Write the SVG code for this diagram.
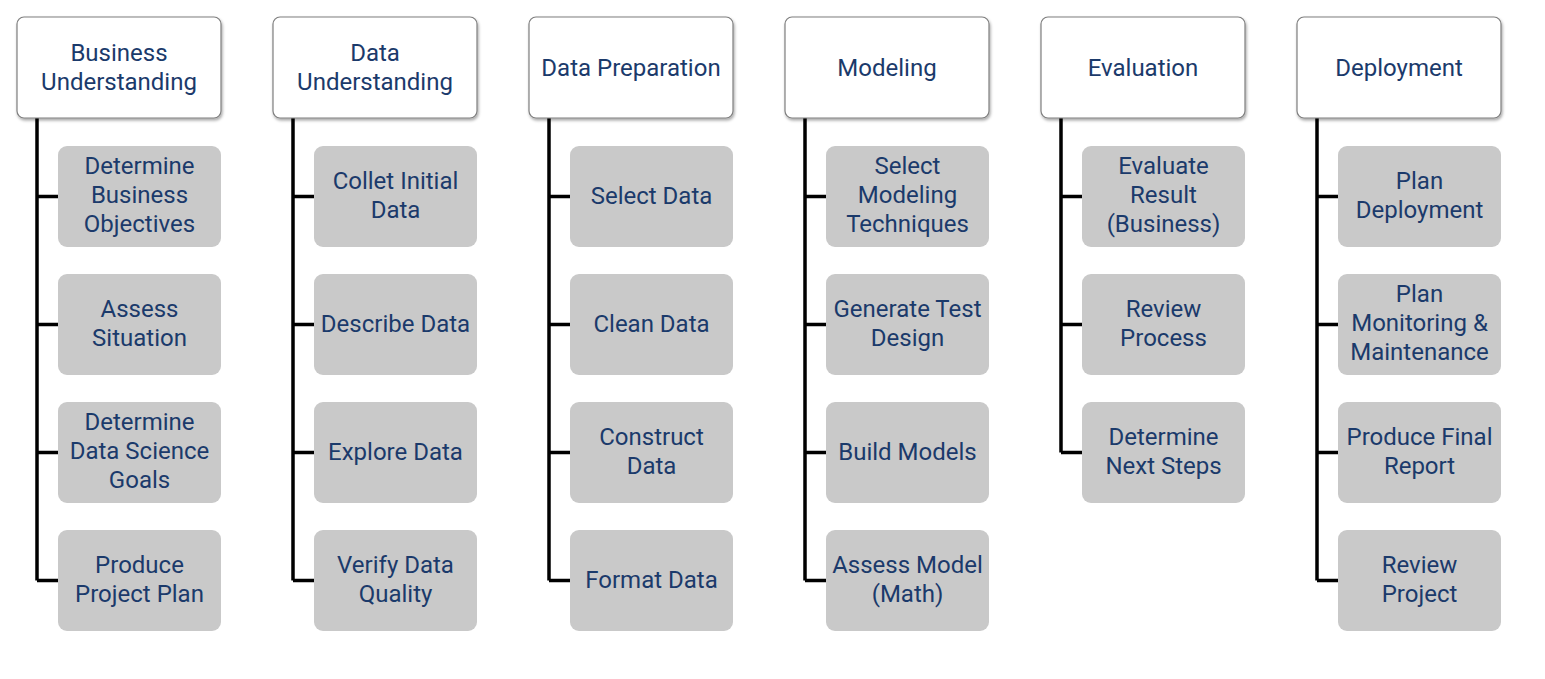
<svg xmlns="http://www.w3.org/2000/svg" width="1545" height="679" viewBox="0 0 1545 679">
<defs>
<filter id="sh" x="-10%" y="-10%" width="120%" height="130%">
<feDropShadow dx="1" dy="2" stdDeviation="1.5" flood-color="#000" flood-opacity="0.35"/>
</filter>
<style>
.hdr{fill:#fff;stroke:#7f7f7f;stroke-width:1.2;filter:url(#sh)}
.box{fill:#c9c9c9}
.t{font-family:Roboto,"Liberation Sans",sans-serif;font-size:24px;fill:#1b3a6b;text-anchor:middle}
.ln{stroke:#000;stroke-width:3.5;fill:none}
</style>
</defs>
<rect width="1545" height="679" fill="#fff"/>
<g id="connectors">
<path class="ln" d="M37 118V580.5M37 196.5H58M37 324.5H58M37 452.5H58M37 580.5H58"/>
<path class="ln" d="M293 118V580.5M293 196.5H314M293 324.5H314M293 452.5H314M293 580.5H314"/>
<path class="ln" d="M549 118V580.5M549 196.5H570M549 324.5H570M549 452.5H570M549 580.5H570"/>
<path class="ln" d="M805 118V580.5M805 196.5H826M805 324.5H826M805 452.5H826M805 580.5H826"/>
<path class="ln" d="M1061 118V452.5M1061 196.5H1082M1061 324.5H1082M1061 452.5H1082"/>
<path class="ln" d="M1317 118V580.5M1317 196.5H1338M1317 324.5H1338M1317 452.5H1338M1317 580.5H1338"/>
</g>
<g id="h1"><rect class="hdr" x="17" y="17" width="204" height="101" rx="7"/><text class="t" x="119" y="61">Business</text><text class="t" x="119" y="90">Understanding</text></g>
<g id="h2"><rect class="hdr" x="273" y="17" width="204" height="101" rx="7"/><text class="t" x="375" y="61">Data</text><text class="t" x="375" y="90">Understanding</text></g>
<g id="h3"><rect class="hdr" x="529" y="17" width="204" height="101" rx="7"/><text class="t" x="631" y="76">Data Preparation</text></g>
<g id="h4"><rect class="hdr" x="785" y="17" width="204" height="101" rx="7"/><text class="t" x="887" y="76">Modeling</text></g>
<g id="h5"><rect class="hdr" x="1041" y="17" width="204" height="101" rx="7"/><text class="t" x="1143" y="76">Evaluation</text></g>
<g id="h6"><rect class="hdr" x="1297" y="17" width="204" height="101" rx="7"/><text class="t" x="1399" y="76">Deployment</text></g>

<g id="c1a"><rect class="box" x="58" y="146" width="163" height="101" rx="9"/><text class="t" x="139.5" y="174">Determine</text><text class="t" x="139.5" y="203">Business</text><text class="t" x="139.5" y="232">Objectives</text></g>
<g id="c1b"><rect class="box" x="58" y="274" width="163" height="101" rx="9"/><text class="t" x="139.5" y="317">Assess</text><text class="t" x="139.5" y="346">Situation</text></g>
<g id="c1c"><rect class="box" x="58" y="402" width="163" height="101" rx="9"/><text class="t" x="139.5" y="430">Determine</text><text class="t" x="139.5" y="459">Data Science</text><text class="t" x="139.5" y="488">Goals</text></g>
<g id="c1d"><rect class="box" x="58" y="530" width="163" height="101" rx="9"/><text class="t" x="139.5" y="573">Produce</text><text class="t" x="139.5" y="602">Project Plan</text></g>

<g id="c2a"><rect class="box" x="314" y="146" width="163" height="101" rx="9"/><text class="t" x="395.5" y="189">Collet Initial</text><text class="t" x="395.5" y="218">Data</text></g>
<g id="c2b"><rect class="box" x="314" y="274" width="163" height="101" rx="9"/><text class="t" x="395.5" y="332">Describe Data</text></g>
<g id="c2c"><rect class="box" x="314" y="402" width="163" height="101" rx="9"/><text class="t" x="395.5" y="460">Explore Data</text></g>
<g id="c2d"><rect class="box" x="314" y="530" width="163" height="101" rx="9"/><text class="t" x="395.5" y="573">Verify Data</text><text class="t" x="395.5" y="602">Quality</text></g>

<g id="c3a"><rect class="box" x="570" y="146" width="163" height="101" rx="9"/><text class="t" x="651.5" y="204">Select Data</text></g>
<g id="c3b"><rect class="box" x="570" y="274" width="163" height="101" rx="9"/><text class="t" x="651.5" y="332">Clean Data</text></g>
<g id="c3c"><rect class="box" x="570" y="402" width="163" height="101" rx="9"/><text class="t" x="651.5" y="445">Construct</text><text class="t" x="651.5" y="474">Data</text></g>
<g id="c3d"><rect class="box" x="570" y="530" width="163" height="101" rx="9"/><text class="t" x="651.5" y="588">Format Data</text></g>

<g id="c4a"><rect class="box" x="826" y="146" width="163" height="101" rx="9"/><text class="t" x="907.5" y="174">Select</text><text class="t" x="907.5" y="203">Modeling</text><text class="t" x="907.5" y="232">Techniques</text></g>
<g id="c4b"><rect class="box" x="826" y="274" width="163" height="101" rx="9"/><text class="t" x="907.5" y="317">Generate Test</text><text class="t" x="907.5" y="346">Design</text></g>
<g id="c4c"><rect class="box" x="826" y="402" width="163" height="101" rx="9"/><text class="t" x="907.5" y="460">Build Models</text></g>
<g id="c4d"><rect class="box" x="826" y="530" width="163" height="101" rx="9"/><text class="t" x="907.5" y="573">Assess Model</text><text class="t" x="907.5" y="602">(Math)</text></g>

<g id="c5a"><rect class="box" x="1082" y="146" width="163" height="101" rx="9"/><text class="t" x="1163.5" y="174">Evaluate</text><text class="t" x="1163.5" y="203">Result</text><text class="t" x="1163.5" y="232">(Business)</text></g>
<g id="c5b"><rect class="box" x="1082" y="274" width="163" height="101" rx="9"/><text class="t" x="1163.5" y="317">Review</text><text class="t" x="1163.5" y="346">Process</text></g>
<g id="c5c"><rect class="box" x="1082" y="402" width="163" height="101" rx="9"/><text class="t" x="1163.5" y="445">Determine</text><text class="t" x="1163.5" y="474">Next Steps</text></g>

<g id="c6a"><rect class="box" x="1338" y="146" width="163" height="101" rx="9"/><text class="t" x="1419.5" y="189">Plan</text><text class="t" x="1419.5" y="218">Deployment</text></g>
<g id="c6b"><rect class="box" x="1338" y="274" width="163" height="101" rx="9"/><text class="t" x="1419.5" y="302">Plan</text><text class="t" x="1419.5" y="331">Monitoring &amp;</text><text class="t" x="1419.5" y="360">Maintenance</text></g>
<g id="c6c"><rect class="box" x="1338" y="402" width="163" height="101" rx="9"/><text class="t" x="1419.5" y="445">Produce Final</text><text class="t" x="1419.5" y="474">Report</text></g>
<g id="c6d"><rect class="box" x="1338" y="530" width="163" height="101" rx="9"/><text class="t" x="1419.5" y="573">Review</text><text class="t" x="1419.5" y="602">Project</text></g>
</svg>
